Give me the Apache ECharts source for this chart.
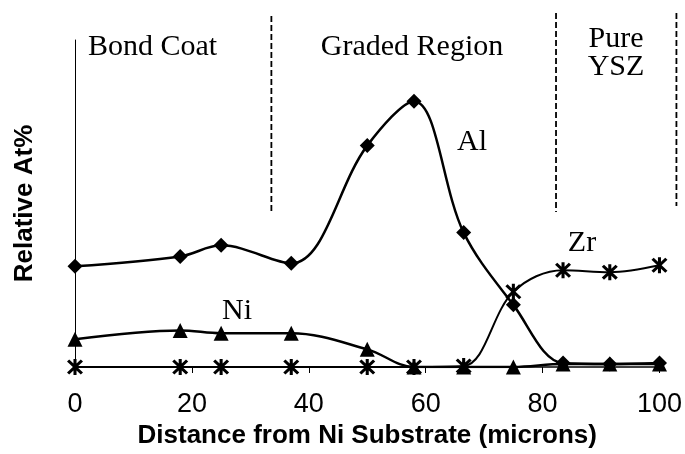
<!DOCTYPE html>
<html>
<head>
<meta charset="utf-8">
<script src="https://cdn.jsdelivr.net/npm/echarts@6/dist/echarts.min.js"></script>
<style>
html, body { margin: 0; padding: 0; background: #fff; }
#container1 { width: 685px; height: 454px; }
</style>
</head>
<body>
<div id="container1"></div>
<script>
// distance from Ni substrate (microns)
var distance = [0, 18, 25, 37, 50, 58, 66.5, 75, 83.5, 91.5, 100];
// relative at%
var alValues = [30.8, 33.8, 37.2, 31.7, 67.7, 81.3, 41.1, 19.0, 1.2, 0.9, 1.2];
var niValues = [8.5, 11.2, 10.3, 10.3, 5.4, 0, 0, 0, 0.9, 0.9, 0.9];
var zrValues = [0, 0, 0, 0, 0, 0, 0.3, 23.0, 29.6, 29.0, 31.1];
var xTicks = [0, 20, 40, 60, 80, 100];
// region boundaries (dashed lines)
var dividers = [33.6, 82.3, 102.9];

function pairs(xs, ys) {
	return xs.map(function (x, i) { return [x, ys[i]]; });
}

// X plus vertical bar, filled
var asterisk = 'path://M4.1 0L5.9 0L5.9 10L4.1 10Z' +
	'M0.3 1.6L1.6 0.3L9.7 8.4L8.4 9.7Z' +
	'M8.4 0.3L9.7 1.6L1.6 9.7L0.3 8.4Z';

var myChart = echarts.init(document.getElementById('container1'));
var option = {
	backgroundColor: '#fff',
	animation: false,
	grid: { left: 75, right: 23, top: 40, bottom: 83 },
	xAxis: {
		type: 'value',
		min: xTicks[0],
		max: xTicks[xTicks.length - 1],
		interval: 20,
		name: 'Distance from Ni Substrate (microns)',
		nameLocation: 'middle',
		nameGap: 56,
		nameTextStyle: { fontFamily: 'Liberation Sans', fontWeight: 'bold', fontSize: 26, color: '#000' },
		axisLine: { show: true, onZero: false, lineStyle: { color: '#000', width: 1.5 } },
		axisTick: { show: true, inside: false, length: 6, lineStyle: { color: '#000' } },
		axisLabel: { fontFamily: 'Liberation Sans', fontSize: 27, color: '#000', margin: 24 },
		splitLine: { show: false }
	},
	yAxis: {
		type: 'value',
		min: 0,
		max: 100,
		name: 'Relative At%',
		nameLocation: 'middle',
		nameGap: 37,
		nameTextStyle: { fontFamily: 'Liberation Sans', fontWeight: 'bold', fontSize: 26, color: '#000' },
		axisLine: { show: true, lineStyle: { color: '#000', width: 1 } },
		axisTick: { show: false },
		axisLabel: { show: false },
		splitLine: { show: false }
	},
	series: [
		{
			name: 'Zr',
			type: 'line',
			smooth: 0.35,
			data: pairs(distance, zrValues),
			symbol: asterisk,
			symbolSize: 16,
			lineStyle: { color: '#000', width: 2 },
			itemStyle: { color: '#000' },
			z: 2
		},
		{
			name: 'Ni',
			type: 'line',
			smooth: 0.35,
			data: pairs(distance, niValues),
			symbol: 'triangle',
			symbolSize: 15,
			lineStyle: { color: '#000', width: 2.5 },
			itemStyle: { color: '#000' },
			z: 3
		},
		{
			name: 'Al',
			type: 'line',
			smooth: 0.35,
			data: pairs(distance, alValues),
			symbol: 'diamond',
			symbolSize: 15,
			lineStyle: { color: '#000', width: 2.5 },
			itemStyle: { color: '#000' },
			z: 4
		}
	]
};
myChart.setOption(option, true);

// region dividers and text labels
var serif = '30px "Liberation Serif"';
var graphics = dividers.map(function (d, i) {
	var px = myChart.convertToPixel({ xAxisIndex: 0 }, d);
	return {
		type: 'line',
		shape: { x1: px, y1: i === 0 ? 16 : 13, x2: px, y2: i === 2 ? 206 : 212 },
		style: { stroke: '#000', lineWidth: 1.8, lineDash: [6, 3] }
	};
});
var texts = [
	{ t: 'Bond Coat', x: 88, y: 47, a: 'left' },
	{ t: 'Graded Region', x: 412, y: 47, a: 'center' },
	{ t: 'Pure\nYSZ', x: 616, y: 53, a: 'center' },
	{ t: 'Al', x: 472, y: 142, a: 'center' },
	{ t: 'Ni', x: 237, y: 311, a: 'center' },
	{ t: 'Zr', x: 582, y: 243, a: 'center' }
];
texts.forEach(function (o) {
	graphics.push({
		type: 'text',
		x: o.x,
		y: o.y,
		style: { text: o.t, font: serif, fill: '#000', align: o.a, verticalAlign: 'middle', lineHeight: 28 }
	});
});
myChart.setOption({ graphic: graphics });
</script>
</body>
</html>
